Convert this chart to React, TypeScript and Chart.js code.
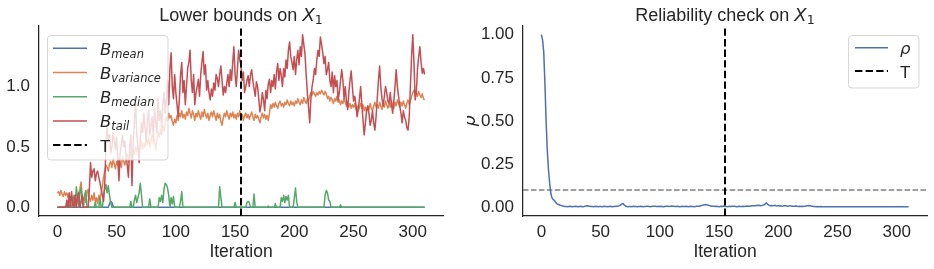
import React, { useEffect, useRef } from 'react';
import { Chart, registerables } from 'chart.js';

Chart.register(...registerables);

// ---------- data ----------
const T_ITER = 155;
const RHO_THRESHOLD = 0.1;
const X_TICKS = [0, 50, 100, 150, 200, 250, 300];
const LEFT_Y_TICKS = [0, 0.5, 1.0];
const RIGHT_Y_TICKS = [0, 0.25, 0.5, 0.75, 1.0];
const X_RANGE = [-15.5, 325.5];
const LEFT_Y_RANGE = [-0.0715, 1.5015];
const RIGHT_Y_RANGE = [-0.05, 1.05];

const B_MEAN = [
  0,0,0,0,0,0,0,0,0.02,0.01,
  0.02,0,0,0,0,0,0,0,0,0,
  0,0,0,0,0,0,0,0,0,0,
  0,0,0,0,0,0,0,0,0,0,
  0,0,0,0,0.03,0.05,0.04,0.01,0,0,
  0,0,0,0,0,0,0,0,0,0,
  0,0,0,0,0,0,0,0,0,0,
  0,0,0,0,0,0,0,0,0,0,
  0,0,0,0,0,0,0,0,0,0,
  0,0,0,0,0,0,0,0,0,0,
  0,0,0,0,0,0,0,0,0,0,
  0,0,0,0,0,0,0,0,0,0,
  0,0,0,0,0,0,0,0,0,0,
  0,0,0,0,0,0,0,0,0,0,
  0,0,0,0,0,0,0,0,0,0,
  0,0,0,0,0,0,0,0,0,0,
  0,0,0,0,0,0,0,0,0,0,
  0,0,0,0,0,0,0,0,0,0,
  0,0,0,0,0,0,0,0,0,0,
  0,0,0,0,0,0,0,0,0,0,
  0,0,0,0,0,0,0,0,0,0,
  0,0,0,0,0,0,0,0,0,0,
  0,0,0,0,0,0,0,0,0,0,
  0,0,0,0,0,0,0,0,0,0,
  0,0,0,0,0,0,0,0,0,0,
  0,0,0,0,0,0,0,0,0,0,
  0,0,0,0,0,0,0,0,0,0,
  0,0,0,0,0,0,0,0,0,0,
  0,0,0,0,0,0,0,0,0,0,
  0,0,0,0,0,0,0,0,0,0,
  0,0,0,0,0,0,0,0,0,0,
  0,
];

const B_VARIANCE = [
  0.12,0.13,0.1,0.14,0.11,0.09,0.13,0.1,0.12,0.08,
  0.11,0.06,0.09,0.02,0.07,0.1,0.05,0.08,0.12,0.15,
  0.21,0.1,0.06,0.09,0.04,0.12,0.15,0.08,0.05,0.1,
  0.06,0.12,0.04,0.08,0.03,0.1,0.07,0.12,0.18,0.25,
  0.3,0.35,0.33,0.3,0.36,0.38,0.33,0.4,0.36,0.32,
  0.38,0.35,0.4,0.37,0.33,0.42,0.38,0.35,0.4,0.44,
  0.38,0.42,0.45,0.4,0.48,0.44,0.5,0.46,0.52,0.48,
  0.5,0.55,0.48,0.53,0.5,0.56,0.52,0.58,0.5,0.55,
  0.6,0.53,0.57,0.48,0.55,0.62,0.58,0.65,0.6,0.68,
  0.63,0.7,0.75,0.72,0.78,0.74,0.76,0.71,0.68,0.73,
  0.7,0.76,0.72,0.78,0.75,0.8,0.74,0.77,0.73,0.79,
  0.76,0.82,0.78,0.74,0.8,0.77,0.72,0.78,0.75,0.8,
  0.76,0.73,0.79,0.75,0.81,0.77,0.74,0.78,0.72,0.76,
  0.79,0.75,0.8,0.76,0.72,0.78,0.74,0.77,0.71,0.68,
  0.74,0.78,0.75,0.8,0.76,0.73,0.78,0.75,0.79,0.74,
  0.77,0.73,0.78,0.75,0.8,0.74,0.77,0.72,0.76,0.78,
  0.74,0.77,0.73,0.76,0.79,0.75,0.72,0.77,0.74,0.76,
  0.73,0.7,0.75,0.78,0.74,0.77,0.73,0.76,0.72,0.78,
  0.85,0.82,0.86,0.83,0.87,0.84,0.82,0.86,0.88,0.84,
  0.86,0.83,0.87,0.85,0.89,0.86,0.84,0.88,0.85,0.87,
  0.84,0.88,0.86,0.9,0.87,0.85,0.89,0.86,0.91,0.88,
  0.86,0.9,0.88,0.92,0.95,0.93,0.96,0.94,0.92,0.95,
  0.93,0.96,0.94,0.97,0.95,0.93,0.96,0.94,0.9,0.92,
  0.88,0.91,0.89,0.86,0.9,0.88,0.92,0.87,0.89,0.85,
  0.88,0.86,0.9,0.87,0.84,0.87,0.83,0.86,0.82,0.85,
  0.83,0.86,0.81,0.84,0.8,0.83,0.86,0.82,0.85,0.8,
  0.83,0.79,0.84,0.81,0.86,0.82,0.8,0.84,0.87,0.83,
  0.85,0.82,0.87,0.84,0.81,0.86,0.83,0.88,0.85,0.82,
  0.86,0.83,0.88,0.85,0.82,0.87,0.84,0.89,0.86,0.83,
  0.87,0.84,0.88,0.85,0.82,0.86,0.89,0.85,0.88,0.92,
  0.95,0.97,0.93,0.95,0.92,0.96,0.93,0.91,0.94,0.9,
  0.89,
];

const B_MEDIAN = [
  0,0,0,0,0,0,0,0,0,0,
  0,0,0,0.05,0.1,0,0.17,0.08,0,0.12,
  0.16,0.04,0,0.1,0.14,0,0,0,0,0,
  0,0,0.04,0,0,0,0.08,0,0,0.1,
  0.15,0.19,0.12,0.18,0.1,0.04,0,0,0,0,
  0,0,0,0,0,0,0,0,0,0,
  0,0,0.05,0,0,0.06,0.1,0.04,0.08,0.12,
  0.2,0.1,0,0,0,0,0,0,0.07,0,
  0,0,0,0,0,0,0.08,0.05,0.1,0.04,
  0.15,0.2,0.19,0.16,0.1,0,0.08,0.03,0.09,0,
  0,0,0,0,0.05,0.13,0,0,0,0,
  0,0,0,0,0,0,0,0,0,0,
  0,0,0,0,0,0,0,0,0,0,
  0,0,0,0,0,0,0,0.17,0.08,0,
  0,0,0,0,0,0,0,0,0,0,
  0.04,0,0,0,0,0,0,0,0,0,
  0.04,0.05,0.04,0,0,0,0.11,0,0,0,
  0,0,0,0,0,0,0,0,0.01,0,
  0,0,0,0,0.03,0,0,0,0,0.08,
  0.05,0.1,0.04,0.09,0.06,0.1,0,0,0,0,
  0.08,0.16,0.05,0,0,0,0,0,0,0,
  0,0,0,0,0,0,0,0,0,0,
  0,0,0,0,0,0,0.1,0.14,0.12,0.06,
  0.05,0,0,0,0,0,0,0,0,0.02,
  0,0,0,0,0,0,0,0,0,0,
  0,0,0,0,0,0,0,0,0,0,
  0,0,0,0,0,0,0,0,0,0,
  0,0,0,0,0,0,0,0,0,0,
  0,0,0,0,0,0,0,0,0,0,
  0,0,0,0,0,0,0,0,0,0,
  0,0,0,0,0,0,0,0,0,0,
  0,
];

const B_TAIL = [
  0,0,0,0,0,0,0,0,0.06,0,
  0.12,0,0.13,0.02,0,0.1,0,0.08,0.12,0,
  0.05,0.1,0,0,0,0,0,0.15,0.37,0.25,
  0.3,0.32,0.22,0.28,0.3,0.25,0.2,0.15,0.1,0.05,
  0.2,0.5,0.66,0.55,0.6,0.45,0.5,0.62,0.55,0.48,
  0.58,0.4,0.22,0.45,0.52,0.6,0.5,0.55,0.42,0.35,
  0.25,0.5,0.6,0.18,0.55,0.7,0.88,0.6,0.5,0.37,
  0.55,0.7,0.62,0.78,0.66,0.55,0.72,0.8,0.6,0.68,
  0.75,0.58,0.82,0.7,0.62,0.9,0.72,0.8,0.66,0.85,
  0.95,0.78,0.9,1.05,0.85,1.15,1.28,1.0,0.9,1.1,
  0.95,0.85,0.75,0.9,1.1,1.2,0.95,1.05,0.85,1.0,
  1.15,1.2,1.3,1.05,0.95,1.1,0.85,0.95,1.0,1.06,
  0.92,1.1,1.2,1.29,1.1,1.18,0.97,1.05,0.95,0.89,
  0.98,0.92,1.03,0.97,1.1,1.07,1.0,1.1,1.17,1.05,
  0.93,1.0,0.95,1.03,1.1,1.0,1.14,1.05,1.2,1.33,
  1.1,1.0,1.15,1.3,1.22,1.17,1.05,1.12,0.95,1.0,
  1.05,1.09,1.0,1.1,1.14,1.05,0.98,0.92,1.04,1.0,
  0.9,0.79,0.85,0.95,0.89,0.8,0.97,0.9,1.02,1.06,
  0.95,1.05,1.0,1.1,0.98,1.12,1.19,1.05,1.15,1.09,
  1.0,1.15,1.08,1.22,1.15,1.3,1.37,1.25,1.2,1.14,
  1.25,1.1,1.22,1.3,1.18,1.33,1.25,1.43,1.35,1.27,
  1.1,0.95,0.83,0.7,0.9,1.0,1.06,1.15,1.1,1.22,
  1.3,1.25,1.41,1.35,1.28,1.19,1.25,1.1,1.14,1.2,
  1.05,1.0,1.12,0.95,1.09,1.0,1.05,0.89,0.95,1.05,
  1.14,1.05,0.9,1.0,0.88,0.81,0.95,1.05,1.13,1.0,
  0.88,0.92,0.85,0.75,0.81,0.9,1.0,0.85,0.72,0.6,
  0.7,0.8,0.84,0.78,0.68,0.72,0.8,0.7,0.64,0.75,
  0.9,1.05,1.17,1.0,0.9,0.84,0.92,1.0,0.95,0.88,
  0.86,0.95,0.85,0.78,0.88,1.0,1.14,1.0,0.92,0.84,
  0.78,0.7,0.8,0.75,0.72,0.66,0.64,0.75,1.0,1.25,
  1.43,1.2,0.89,0.95,1.15,1.25,1.33,1.2,1.11,1.15,
  1.1,
];

const RHO = [
  1.0,0.97,0.9,0.72,0.5,0.33,0.22,0.14,0.08,0.055,
  0.045,0.04,0.03,0.022,0.018,0.015,0.012,0.01,0.008,0.006,
  0.005,0.005,0.004,0.005,0.006,0.005,0.004,0.005,0.005,0.006,
  0.005,0.004,0.005,0.006,0.005,0.004,0.005,0.007,0.008,0.009,
  0.007,0.006,0.005,0.005,0.004,0.005,0.006,0.005,0.004,0.005,
  0.005,0.004,0.005,0.006,0.005,0.005,0.004,0.005,0.006,0.005,
  0.004,0.005,0.005,0.006,0.007,0.008,0.01,0.015,0.02,0.022,
  0.014,0.008,0.005,0.004,0.005,0.005,0.004,0.005,0.006,0.005,
  0.005,0.004,0.005,0.005,0.006,0.005,0.004,0.005,0.005,0.006,
  0.006,0.005,0.004,0.005,0.006,0.007,0.006,0.005,0.005,0.006,
  0.005,0.006,0.005,0.004,0.005,0.006,0.007,0.006,0.005,0.006,
  0.008,0.007,0.006,0.005,0.005,0.006,0.005,0.004,0.005,0.006,
  0.005,0.005,0.006,0.005,0.004,0.005,0.006,0.005,0.005,0.004,
  0.005,0.006,0.007,0.006,0.008,0.01,0.012,0.014,0.015,0.016,
  0.014,0.012,0.01,0.008,0.006,0.007,0.006,0.005,0.006,0.005,
  0.004,0.005,0.006,0.005,0.008,0.006,0.005,0.004,0.005,0.006,
  0.005,0.006,0.007,0.006,0.005,0.004,0.005,0.006,0.005,0.005,
  0.006,0.005,0.006,0.007,0.008,0.007,0.006,0.008,0.009,0.01,
  0.009,0.01,0.012,0.011,0.012,0.01,0.011,0.013,0.015,0.02,
  0.026,0.018,0.012,0.01,0.011,0.009,0.01,0.012,0.009,0.008,
  0.01,0.008,0.009,0.007,0.008,0.01,0.009,0.008,0.007,0.008,
  0.01,0.008,0.007,0.006,0.007,0.008,0.006,0.005,0.006,0.005,
  0.006,0.005,0.006,0.007,0.009,0.01,0.011,0.009,0.007,0.006,
  0.005,0.005,0.004,0.005,0.004,0.004,0.005,0.004,0.004,0.003,
  0.004,0.004,0.003,0.004,0.004,0.003,0.004,0.004,0.003,0.004,
  0.003,0.003,0.004,0.003,0.003,0.004,0.003,0.003,0.003,0.004,
  0.003,0.003,0.003,0.004,0.003,0.003,0.003,0.003,0.004,0.003,
  0.003,0.003,0.003,0.004,0.003,0.003,0.003,0.003,0.003,0.004,
  0.003,0.003,0.003,0.003,0.004,0.003,0.003,0.003,0.003,0.003,
  0.003,0.003,0.004,0.003,0.003,0.003,0.003,0.003,0.003,0.003,
  0.003,0.003,0.003,0.003,0.003,0.003,0.003,0.003,0.003,0.003,
  0.003,
];

const ITERATIONS = B_TAIL.map((_, i) => i);

// ---------- styling ----------
const BLUE = '#4c72b0';
const ORANGE = '#dd8452';
const GREEN = '#55a868';
const RED = '#c44e52';
const TEXT = '#262626';
const SANS = "'Liberation Sans', Arial, sans-serif";
const MATH = "'DejaVu Sans', sans-serif";

function makeOptions(cfg: any) {
  return {
    responsive: false,
    animation: false,
    events: [],
    layout: { padding: { top: 26, right: cfg.padRight, left: 0, bottom: 0 } },
    plugins: { legend: { display: false }, tooltip: { enabled: false }, title: { display: false } },
    elements: {
      point: { radius: 0 },
      line: { tension: 0, borderJoinStyle: 'round', borderCapStyle: 'butt', fill: false },
    },
    scales: {
      x: {
        type: 'linear',
        min: X_RANGE[0],
        max: X_RANGE[1],
        afterBuildTicks: (s: any) => { s.ticks = X_TICKS.map((v) => ({ value: v })); },
        afterFit: (s: any) => { s.height = 53; },
        grid: { display: false, drawTicks: false },
        border: { display: true, color: TEXT, width: 1.25 },
        ticks: {
          font: { family: SANS, size: 17 }, color: TEXT, padding: 6,
          maxRotation: 0, autoSkip: false, callback: (v: any) => String(v),
        },
        title: {
          display: true, text: 'Iteration', color: TEXT,
          font: { family: SANS, size: 17.5 }, padding: { top: 0, bottom: 6 },
        },
      },
      y: {
        type: 'linear',
        min: cfg.yRange[0],
        max: cfg.yRange[1],
        afterBuildTicks: (s: any) => { s.ticks = cfg.yTicks.map((v: number) => ({ value: v })); },
        afterFit: (s: any) => { s.width = cfg.yWidth; },
        grid: { display: false, drawTicks: false },
        border: { display: true, color: TEXT, width: 1.25 },
        ticks: {
          font: { family: SANS, size: 17 }, color: TEXT, padding: 9,
          autoSkip: false, callback: (v: any) => Number(v).toFixed(cfg.decimals),
        },
        title: cfg.yTitle
          ? {
              display: true, text: cfg.yTitle, color: TEXT,
              font: { family: MATH, size: 17.5, style: 'italic', lineHeight: 0.35 }, padding: 0,
            }
          : { display: false },
      },
    },
  };
}

function tLine(yRange: number[]) {
  return {
    label: 'T',
    data: [{ x: T_ITER, y: yRange[0] }, { x: T_ITER, y: yRange[1] }],
    borderColor: '#000000',
    borderWidth: 2,
    borderDash: [7.4, 3.2],
    order: 0,
  };
}

export default function App() {
  const leftRef = useRef<HTMLCanvasElement>(null);
  const rightRef = useRef<HTMLCanvasElement>(null);

  useEffect(() => {
    const left = new Chart(leftRef.current as HTMLCanvasElement, {
      type: 'line',
      data: {
        labels: ITERATIONS,
        datasets: [
          { label: 'B_tail', data: B_TAIL, borderColor: RED, borderWidth: 1.5, order: 1 },
          { label: 'B_median', data: B_MEDIAN, borderColor: GREEN, borderWidth: 1.5, order: 2 },
          { label: 'B_variance', data: B_VARIANCE, borderColor: ORANGE, borderWidth: 1.5, order: 3 },
          { label: 'B_mean', data: B_MEAN, borderColor: BLUE, borderWidth: 1.5, order: 4 },
          tLine(LEFT_Y_RANGE),
        ],
      } as any,
      options: makeOptions({
        padRight: 24, yWidth: 39, yRange: LEFT_Y_RANGE, yTicks: LEFT_Y_TICKS, decimals: 1, yTitle: null,
      }) as any,
    });
    const right = new Chart(rightRef.current as HTMLCanvasElement, {
      type: 'line',
      data: {
        labels: ITERATIONS,
        datasets: [
          { label: 'ρ', data: RHO, borderColor: BLUE, borderWidth: 1.5, order: 1 },
          tLine(RIGHT_Y_RANGE),
          {
            label: 'threshold',
            data: [{ x: X_RANGE[0], y: RHO_THRESHOLD }, { x: X_RANGE[1], y: RHO_THRESHOLD }],
            borderColor: '#808080', borderWidth: 1.5, borderDash: [5.55, 2.4], order: 2,
          },
        ],
      } as any,
      options: makeOptions({
        padRight: 7, yWidth: 56, yRange: RIGHT_Y_RANGE, yTicks: RIGHT_Y_TICKS, decimals: 2, yTitle: 'ρ',
      }) as any,
    });
    return () => { left.destroy(); right.destroy(); };
  }, []);

  const leftRows = [
    { main: 'B', sub: 'mean', color: BLUE },
    { main: 'B', sub: 'variance', color: ORANGE },
    { main: 'B', sub: 'median', color: GREEN },
    { main: 'B', sub: 'tail', color: RED },
  ];
  const rowY = (i: number) => 48.3 + i * 24.2;

  return (
    <div style={{ position: 'absolute', left: 0, top: 0, width: 934, height: 269, background: '#fff' }}>
      <canvas ref={leftRef} width={467} height={269} style={{ position: 'absolute', left: 0, top: 0 }} />
      <canvas ref={rightRef} width={467} height={269} style={{ position: 'absolute', left: 467, top: 0 }} />
      <svg width={934} height={269} style={{ position: 'absolute', left: 0, top: 0, pointerEvents: 'none' }}>
        {/* titles */}
        <text x={241} y={20.7} textAnchor="middle" fontFamily={SANS} fontSize={18} fill={TEXT}>
          Lower bounds on <tspan fontFamily={MATH} fontStyle="italic">X</tspan>
          <tspan fontFamily={MATH} fontSize={12.6} dy={3.3}>1</tspan>
        </text>
        <text x={725} y={20.7} textAnchor="middle" fontFamily={SANS} fontSize={18} fill={TEXT}>
          Reliability check on <tspan fontFamily={MATH} fontStyle="italic">X</tspan>
          <tspan fontFamily={MATH} fontSize={12.6} dy={3.3}>1</tspan>
        </text>

        {/* left legend */}
        <rect x={47.5} y={35.5} width={120.5} height={124.5} rx={3.5}
          fill="rgba(255,255,255,0.8)" stroke="rgba(204,204,204,0.8)" strokeWidth={1} />
        {leftRows.map((r, i) => (
          <g key={r.sub}>
            <line x1={53} x2={87} y1={rowY(i)} y2={rowY(i)} stroke={r.color} strokeWidth={1.5} />
            <text x={100} y={rowY(i) + 6.5} fontFamily={MATH} fontStyle="italic" fontSize={16.5} fill={TEXT}>
              {r.main}<tspan fontSize={11.5} dy={3}>{r.sub}</tspan>
            </text>
          </g>
        ))}
        <line x1={53} x2={87} y1={rowY(4)} y2={rowY(4)} stroke="#000" strokeWidth={2} strokeDasharray="7.4 3.2" />
        <text x={100} y={rowY(4) + 6.5} fontFamily={SANS} fontSize={17} fill={TEXT}>T</text>

        {/* right legend */}
        <rect x={848.5} y={35.5} width={70.5} height={52.5} rx={3.5}
          fill="rgba(255,255,255,0.8)" stroke="rgba(204,204,204,0.8)" strokeWidth={1} />
        <line x1={855} x2={888} y1={47.7} y2={47.7} stroke={BLUE} strokeWidth={1.5} />
        <text x={900} y={47.7 + 6.5} fontFamily={MATH} fontStyle="italic" fontSize={16.5} fill={TEXT}>ρ</text>
        <line x1={855} x2={888} y1={71} y2={71} stroke="#000" strokeWidth={2} strokeDasharray="7.4 3.2" />
        <text x={900} y={71 + 6.5} fontFamily={SANS} fontSize={17} fill={TEXT}>T</text>
      </svg>
    </div>
  );
}
